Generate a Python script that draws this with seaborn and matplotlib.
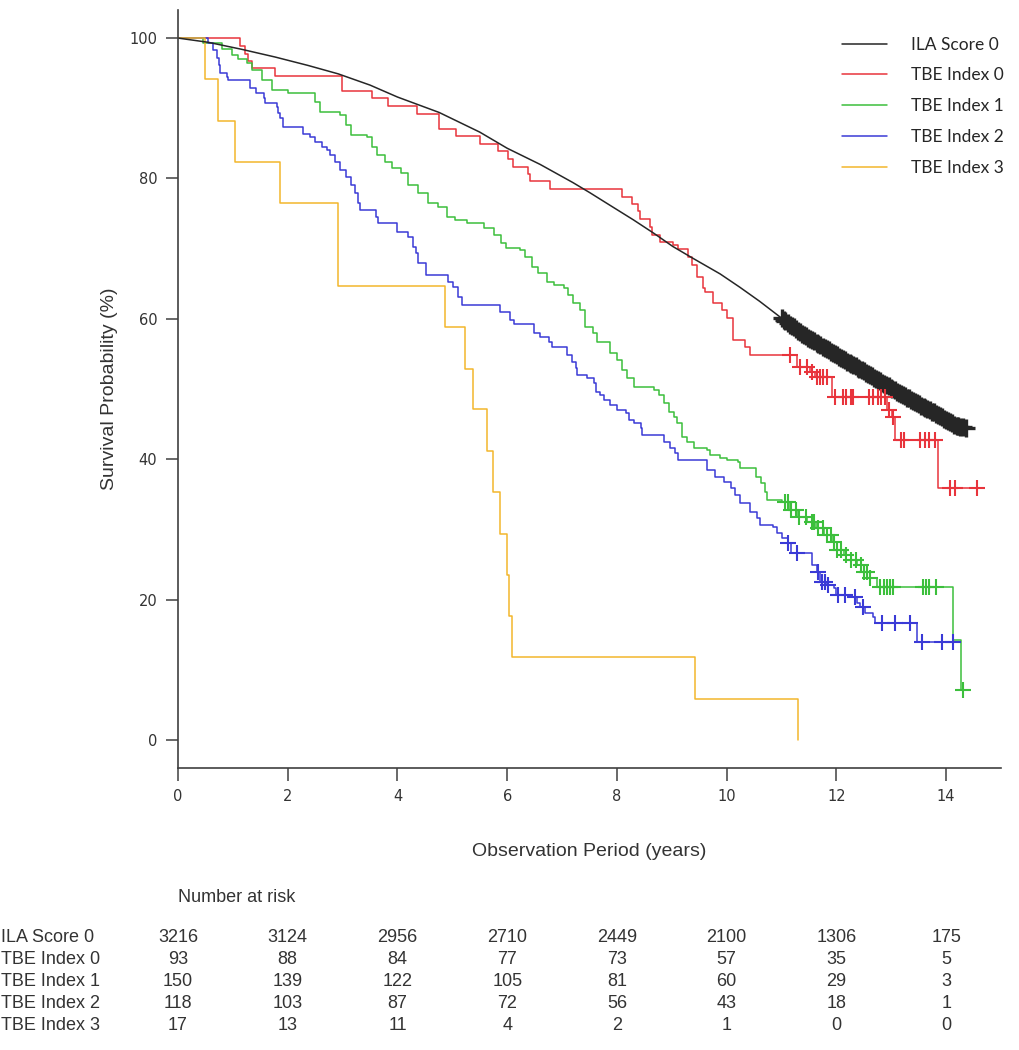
import numpy as np
import pandas as pd
import matplotlib
matplotlib.use("Agg")
import matplotlib.pyplot as plt
from matplotlib.lines import Line2D
from matplotlib.transforms import blended_transform_factory
import seaborn as sns

# ======= Data =======
groups = ["ILA Score 0", "TBE Index 0", "TBE Index 1", "TBE Index 2", "TBE Index 3"]
colors = ["#262626", "#e8343c", "#3cbf3c", "#3a3ad6", "#f3b62c"]

# ILA Score 0 - large group, curve looks smooth
ila_t = [0, 0.55, 1.16, 1.77, 2.37, 2.92, 3.5, 4.0, 4.76, 5.5, 6.0, 6.6, 7.2, 7.5,
         7.93, 8.3, 8.67, 9.02, 9.39, 9.88, 10.24, 10.6, 10.9, 11.33, 11.94, 12.55,
         13.15, 13.76, 14.18, 14.36]
ila_s = [100, 99.4, 98.4, 97.3, 96.1, 94.9, 93.3, 91.6, 89.4, 86.6, 84.3, 82.0, 79.4,
         78.0, 75.9, 74.1, 72.2, 70.3, 68.6, 66.4, 64.5, 62.5, 60.7, 58.1, 55.1, 52.3,
         49.4, 46.7, 44.8, 44.4]
ila_cens = [11.0, 11.04, 11.07, 11.11, 11.15, 11.19, 11.22, 11.26, 11.3, 11.34, 11.37,
            11.41, 11.45, 11.49, 11.52, 11.56, 11.6, 11.64, 11.67, 11.71, 11.75, 11.79,
            11.82, 11.86, 11.9, 11.94, 11.97, 12.01, 12.05, 12.09, 12.12, 12.16, 12.2,
            12.24, 12.27, 12.31, 12.35, 12.39, 12.42, 12.46, 12.5, 12.54, 12.57, 12.61,
            12.65, 12.69, 12.72, 12.76, 12.8, 12.84, 12.87, 12.91, 12.95, 12.99, 13.02,
            13.06, 13.1, 13.14, 13.17, 13.21, 13.25, 13.29, 13.32, 13.36, 13.4, 13.44,
            13.47, 13.51, 13.55, 13.59, 13.62, 13.66, 13.7, 13.74, 13.77, 13.81, 13.85,
            13.89, 13.92, 13.96, 14.0, 14.04, 14.07, 14.11, 14.15, 14.19, 14.22, 14.26,
            14.3, 14.36]

# TBE Index 0
tbe0_t = [0, 1.13, 1.22, 1.28, 1.35, 1.77, 2.98, 3.54, 3.83, 4.36, 4.76, 5.07, 5.5,
          5.84, 6.02, 6.11, 6.38, 6.42, 6.78, 8.09, 8.28, 8.39, 8.42, 8.6, 8.64, 8.79,
          9.02, 9.11, 9.3, 9.37, 9.46, 9.57, 9.61, 9.76, 9.91, 10.0, 10.12, 10.34,
          10.43, 11.28, 11.52, 11.61, 11.92, 12.92, 13.02, 13.07, 13.85, 14.67]
tbe0_s = [100, 98.9, 97.8, 96.8, 95.7, 94.6, 92.5, 91.4, 90.3, 89.2, 87.1, 86.0, 84.9,
          83.9, 82.8, 81.7, 80.6, 79.6, 78.5, 77.4, 76.3, 75.3, 74.2, 73.1, 72.0, 71.0,
          70.5, 69.9, 68.8, 67.7, 66.0, 64.4, 63.8, 62.2, 61.3, 60.1, 57.0, 56.0, 54.8,
          53.1, 52.4, 51.7, 48.9, 47.0, 46.0, 42.7, 35.9, 35.9]
tbe0_cens = [11.16, 11.34, 11.46, 11.55, 11.64, 11.7, 11.76, 11.82, 11.98, 12.12, 12.18,
             12.27, 12.3, 12.6, 12.66, 12.75, 12.81, 12.88, 12.96, 13.04, 13.17, 13.23,
             13.53, 13.62, 13.68, 13.8, 14.07, 14.16, 14.56]

# TBE Index 1
tbe1_t = [0, 0.45, 0.8, 0.98, 1.1, 1.26, 1.35, 1.53, 1.72, 2.0, 2.5, 2.58, 2.95, 3.06,
          3.15, 3.45, 3.53, 3.62, 3.77, 3.9, 4.06, 4.19, 4.37, 4.55, 4.73, 4.9, 5.04,
          5.27, 5.57, 5.76, 5.88, 5.97, 6.24, 6.33, 6.45, 6.57, 6.72, 6.85, 7.03, 7.1,
          7.2, 7.33, 7.42, 7.57, 7.63, 7.87, 8.0, 8.09, 8.18, 8.31, 8.67, 8.76, 8.85,
          8.94, 9.04, 9.1, 9.19, 9.28, 9.4, 9.64, 9.7, 9.88, 10.0, 10.2, 10.24, 10.53,
          10.62, 10.7, 10.73, 11.0, 11.16, 11.28, 11.47, 11.62, 11.77, 11.93, 12.02,
          12.14, 12.26, 12.38, 12.5, 12.62, 12.74, 14.13, 14.27, 14.31]
tbe1_s = [100, 99.3, 98.5, 97.6, 97.0, 96.4, 95.4, 94.0, 92.6, 92.2, 90.9, 89.5, 89.0,
          87.6, 86.2, 85.9, 84.5, 83.3, 82.3, 81.5, 80.8, 79.1, 77.9, 76.5, 75.9, 74.5,
          74.1, 73.6, 72.9, 71.9, 70.8, 70.1, 69.8, 68.8, 67.4, 66.5, 65.2, 64.8, 64.4,
          63.4, 62.2, 61.3, 58.8, 58.0, 56.7, 55.1, 54.1, 52.7, 51.6, 50.3, 49.8, 49.1,
          48.0, 46.7, 46.0, 45.2, 43.2, 42.5, 41.6, 41.3, 40.6, 40.2, 39.9, 39.6, 38.7,
          37.5, 36.6, 35.3, 34.2, 33.9, 32.8, 31.8, 31.1, 30.2, 29.2, 28.2, 27.1, 26.4,
          25.6, 24.9, 23.9, 23.1, 21.8, 14.2, 7.1, 7.1]
tbe1_cens = [11.06, 11.12, 11.18, 11.26, 11.32, 11.44, 11.55, 11.6, 11.66, 11.75, 11.82,
             11.9, 11.96, 12.02, 12.08, 12.17, 12.26, 12.35, 12.44, 12.5, 12.56, 12.62,
             12.8, 12.86, 12.92, 12.98, 13.03, 13.58, 13.63, 13.68, 13.82, 14.31]

# TBE Index 2
tbe2_t = [0, 0.55, 0.64, 0.71, 0.74, 0.77, 0.89, 0.92, 1.31, 1.43, 1.56, 1.59, 1.8, 1.83,
          1.86, 1.92, 2.28, 2.4, 2.5, 2.62, 2.71, 2.77, 2.86, 2.95, 3.07, 3.16, 3.22,
          3.28, 3.31, 3.61, 3.64, 4.0, 4.19, 4.28, 4.34, 4.37, 4.52, 4.92, 5.01, 5.11,
          5.17, 5.87, 6.06, 6.12, 6.48, 6.6, 6.76, 6.82, 7.09, 7.19, 7.25, 7.28, 7.46,
          7.58, 7.61, 7.7, 7.76, 7.88, 8.0, 8.16, 8.22, 8.31, 8.43, 8.46, 8.85, 8.97,
          9.06, 9.12, 9.64, 9.79, 9.95, 10.07, 10.16, 10.25, 10.43, 10.55, 10.61, 10.85,
          10.91, 11.0, 11.12, 11.18, 11.55, 11.64, 11.7, 11.82, 11.95, 12.0, 12.25,
          12.37, 12.43, 12.52, 12.67, 12.7, 13.46, 14.22]
tbe2_s = [100, 99.3, 98.3, 97.2, 96.2, 95.0, 94.5, 94.0, 92.9, 92.2, 91.5, 90.7, 90.2,
          89.3, 88.6, 87.3, 86.4, 85.9, 85.2, 84.5, 84.0, 83.3, 82.3, 81.2, 80.2, 79.1,
          77.9, 76.5, 75.5, 74.5, 73.7, 72.4, 71.7, 70.2, 69.4, 67.9, 66.3, 65.2, 64.5,
          63.1, 62.0, 61.0, 59.8, 59.3, 58.0, 57.4, 56.7, 56.0, 54.8, 53.8, 53.0, 52.0,
          51.6, 50.9, 49.6, 49.1, 48.4, 47.7, 47.0, 46.6, 45.6, 45.2, 44.4, 43.4, 42.5,
          41.6, 40.9, 39.9, 38.5, 37.5, 36.8, 35.9, 34.9, 33.8, 32.5, 31.6, 30.6, 30.3,
          29.5, 28.8, 28.1, 26.6, 24.9, 23.9, 22.5, 22.1, 21.6, 20.7, 20.4, 19.5, 18.9,
          18.1, 17.5, 16.7, 14.0, 14.0]
tbe2_cens = [11.12, 11.28, 11.67, 11.74, 11.8, 11.85, 12.03, 12.16, 12.34, 12.49, 12.83,
             13.07, 13.34, 13.56, 13.93, 14.13]

# TBE Index 3
tbe3_t = [0, 0.5, 0.73, 1.04, 1.85, 2.92, 4.87, 5.23, 5.38, 5.63, 5.74, 5.87, 6.0,
          6.04, 6.08, 9.42, 11.3]
tbe3_s = [100, 94.1, 88.2, 82.4, 76.5, 64.7, 58.8, 52.9, 47.1, 41.2, 35.3, 29.4, 23.5,
          17.6, 11.8, 5.9, 0]

# Number at risk table
risk_times = [0, 2, 4, 6, 8, 10, 12, 14]
risk_ila = [3216, 3124, 2956, 2710, 2449, 2100, 1306, 175]
risk_tbe0 = [93, 88, 84, 77, 73, 57, 35, 5]
risk_tbe1 = [150, 139, 122, 105, 81, 60, 29, 3]
risk_tbe2 = [118, 103, 87, 72, 56, 43, 18, 1]
risk_tbe3 = [17, 13, 11, 4, 2, 1, 0, 0]

# ======= Build frames =======
palette = dict(zip(groups, colors))

steps = pd.concat([
    pd.DataFrame({"time": t, "surv": s, "group": g})
    for g, t, s in [(groups[1], tbe0_t, tbe0_s), (groups[2], tbe1_t, tbe1_s),
                    (groups[3], tbe2_t, tbe2_s), (groups[4], tbe3_t, tbe3_s)]
], ignore_index=True)


def step_value(times, surv, at):
    times = np.asarray(times)
    surv = np.asarray(surv)
    idx = np.searchsorted(times, at, side="right") - 1
    return surv[idx]


cens = pd.concat([
    pd.DataFrame({"time": ila_cens, "surv": np.interp(ila_cens, ila_t, ila_s), "group": groups[0]}),
    pd.DataFrame({"time": tbe0_cens, "surv": step_value(tbe0_t, tbe0_s, tbe0_cens), "group": groups[1]}),
    pd.DataFrame({"time": tbe1_cens, "surv": step_value(tbe1_t, tbe1_s, tbe1_cens), "group": groups[2]}),
    pd.DataFrame({"time": tbe2_cens, "surv": step_value(tbe2_t, tbe2_s, tbe2_cens), "group": groups[3]}),
], ignore_index=True)

# ======= Plot =======
sns.set_theme(style="ticks")
plt.rcParams["font.family"] = ["DejaVu Sans"]
narrow = ["Liberation Sans Narrow", "Liberation Sans", "DejaVu Sans"]

fig = plt.figure(figsize=(10.19, 10.5), dpi=100)
ax = fig.add_axes([178 / 1019, (1050 - 768) / 1050, (1001 - 178) / 1019, 758 / 1050])

sns.lineplot(data=steps, x="time", y="surv", hue="group", palette=palette,
             estimator=None, sort=False, drawstyle="steps-post", linewidth=1.1,
             legend=False, ax=ax)
sns.lineplot(x=ila_t, y=ila_s, color=colors[0], estimator=None, sort=False,
             linewidth=1.1, legend=False, ax=ax)

for g in groups[:4]:
    sub = cens[cens["group"] == g]
    big = g == groups[0]
    sns.scatterplot(data=sub, x="time", y="surv", marker="+", s=170 if big else 140,
                    color=palette[g], linewidth=2.4 if big else 1.5, legend=False,
                    ax=ax, zorder=3)

ax.set_xlim(0, 15)
ax.set_ylim(-4, 104)
ax.set_xticks(range(0, 15, 2))
ax.set_yticks(range(0, 101, 20))
sns.despine(ax=ax)
for sp in ["left", "bottom"]:
    ax.spines[sp].set_color("#404040")
    ax.spines[sp].set_linewidth(1.2)
ax.tick_params(axis="both", direction="out", length=9, width=1.1, color="#404040",
               labelsize=10.5, labelcolor="#333333", pad=6)
ax.set_xlabel("Observation Period (years)", fontsize=14, family=narrow,
              color="#333333", labelpad=28)
ax.set_ylabel("Survival Probability (%)", fontsize=14, family=narrow,
              color="#333333", labelpad=8)

handles = [Line2D([0], [0], color=c, lw=1.1) for c in colors]
fig.legend(handles, groups, loc="upper left", bbox_to_anchor=(826 / 1019, 1 - 21 / 1050),
           frameon=False, handlelength=2.6, handletextpad=1.4, labelspacing=0.85,
           prop={"family": ["Lato", "DejaVu Sans"], "size": 12.5})

# ======= Number at risk =======
tr = blended_transform_factory(ax.transData, fig.transFigure)
fig.text(178 / 1019, 1 - 897 / 1050, "Number at risk", fontsize=13, family=narrow,
         color="#333333", va="center", ha="left")
rows = [risk_ila, risk_tbe0, risk_tbe1, risk_tbe2, risk_tbe3]
row_y = [938, 960, 982, 1004, 1026]
for name, vals, yy in zip(groups, rows, row_y):
    fig.text(0.001, 1 - yy / 1050, name, fontsize=13, family=narrow,
             color="#333333", va="center", ha="left")
    for t, v in zip(risk_times, vals):
        ax.text(t, 1 - yy / 1050, str(v), transform=tr, fontsize=13, family=narrow,
                color="#333333", va="center", ha="center", clip_on=False)

fig.savefig("out.png", dpi=100)
